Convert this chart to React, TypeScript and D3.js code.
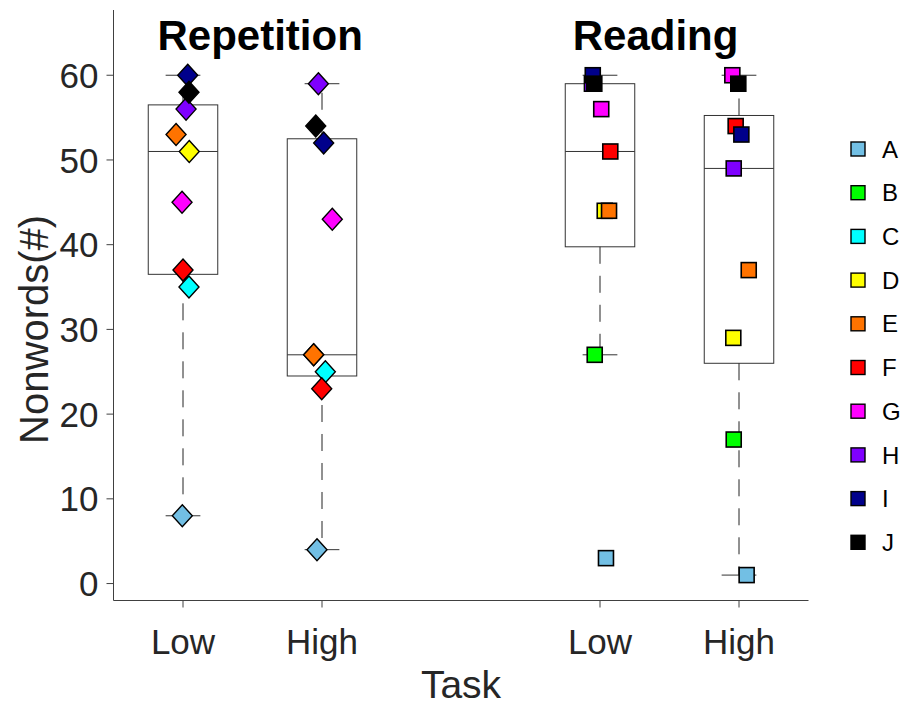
import React from "react";
import * as d3 from "d3";

const subjects = ["A", "B", "C", "D", "E", "F", "G", "H", "I", "J"];
const subjectColors = ["#72bfe4", "#00ff00", "#00ffff", "#ffff00", "#ff7300", "#ff0000", "#ff00ff", "#7f00ff", "#00008b", "#000000"];

const conditionLabels = ["Low", "High", "Low", "High"];
const conditionPositions = [1, 2, 4, 5];
const conditionMarkers = ["diamond", "diamond", "square", "square"];
const groupTitles = ["Repetition", "Reading"];
const groupTitlePositions = [1.555, 4.4];

const repetitionLow = [8, null, 35, 51, 53, 37, 45, 56, 60, 58];
const repetitionHigh = [4, null, 25, 27, 27, 23, 43, 59, 52, 54];
const readingLow = [3, 27, null, 44, 44, 51, 56, 59, 60, 59];
const readingHigh = [1, 17, null, 29, 37, 54, 60, 49, 53, 59];

// horizontal jitter of each subject's marker, in category units
const repetitionLowJitter = [-0.005, 0, 0.043, 0.045, -0.05, 0, -0.007, 0.022, 0.034, 0.043];
const repetitionHighJitter = [-0.036, 0, 0.024, -0.06, -0.06, -0.002, 0.074, -0.026, 0.012, -0.045];
const readingLowJitter = [0.043, -0.038, 0, 0.034, 0.065, 0.074, 0.009, -0.058, -0.052, -0.041];
const readingHighJitter = [0.055, -0.038, 0, -0.041, 0.07, -0.024, -0.048, -0.038, 0.017, -0.005];

const yTicks = [0, 10, 20, 30, 40, 50, 60];

const conditionValues = [repetitionLow, repetitionHigh, readingLow, readingHigh];
const conditionJitter = [repetitionLowJitter, repetitionHighJitter, readingLowJitter, readingHighJitter];

const W = 904;
const H = 706;
const FONT = "'Liberation Sans', Arial, Helvetica, sans-serif";
const TXT = "#262626";
const AX = "#404040";

// MATLAB-style percentile
function prctile(sorted: number[], p: number) {
  const n = sorted.length;
  const pos = (p / 100) * n + 0.5;
  if (pos <= 1) return sorted[0];
  if (pos >= n) return sorted[n - 1];
  const lo = Math.floor(pos);
  const f = pos - lo;
  return sorted[lo - 1] + f * (sorted[lo] - sorted[lo - 1]);
}

function boxStats(vals: (number | null)[]) {
  const s = (vals.filter((v) => v !== null) as number[]).slice().sort((a, b) => a - b);
  const q1 = prctile(s, 25);
  const q3 = prctile(s, 75);
  const med = prctile(s, 50);
  const iqr = q3 - q1;
  const lo = d3.min(s.filter((v) => v >= q1 - 1.5 * iqr)) as number;
  const hi = d3.max(s.filter((v) => v <= q3 + 1.5 * iqr)) as number;
  return { q1, q3, med, lo, hi };
}

export default function App() {
  const x = d3.scaleLinear().domain([0.5, 5.5]).range([113.5, 808.5]);
  const y = d3.scaleLinear().domain([-2, 67.7]).range([600.5, 10]);
  const boxW = 0.5;
  const capW = 0.25;

  const diamond = (cx: number, cy: number) => {
    const hw = 10, hh = 11;
    return `M${cx},${cy - hh}L${cx + hw},${cy}L${cx},${cy + hh}L${cx - hw},${cy}Z`;
  };

  return (
    <svg width={W} height={H} style={{ position: "absolute", left: 0, top: 0, background: "#fff" }} fontFamily={FONT}>
      <rect x={0} y={0} width={W} height={H} fill="#fff" />
      {/* axes */}
      <line x1={x(0.5)} x2={x(0.5)} y1={y(67.7)} y2={y(-2)} stroke={AX} strokeWidth={1} />
      <line x1={x(0.5)} x2={x(5.5)} y1={y(-2)} y2={y(-2)} stroke={AX} strokeWidth={1} />
      {yTicks.map((t) => (
        <g key={"yt" + t}>
          <line x1={x(0.5) - 7} x2={x(0.5)} y1={y(t)} y2={y(t)} stroke={AX} strokeWidth={1} />
          <text x={x(0.5) - 15} y={y(t)} dy="0.36em" textAnchor="end" fontSize={35} fill={TXT}>
            {t}
          </text>
        </g>
      ))}
      {conditionPositions.map((p, i) => (
        <g key={"xt" + i}>
          <line x1={x(p)} x2={x(p)} y1={y(-2)} y2={y(-2) + 7} stroke={AX} strokeWidth={1} />
          <text x={x(p)} y={654} textAnchor="middle" fontSize={35} fill={TXT}>
            {conditionLabels[i]}
          </text>
        </g>
      ))}
      <text x={x(3)} y={698} textAnchor="middle" fontSize={39} fill={TXT}>
        Task
      </text>
      <text transform={`translate(48,${y(30)}) rotate(-90)`} textAnchor="middle" fontSize={40} fill={TXT}>
        Nonwords(#)
      </text>
      {/* boxes */}
      {conditionValues.map((vals, i) => {
        const st = boxStats(vals);
        const p = conditionPositions[i];
        return (
          <g key={"box" + i} stroke="#333" strokeWidth={1} fill="none">
            <rect x={x(p - boxW / 2)} y={y(st.q3)} width={x(p + boxW / 2) - x(p - boxW / 2)} height={y(st.q1) - y(st.q3)} />
            <line x1={x(p - boxW / 2)} x2={x(p + boxW / 2)} y1={y(st.med)} y2={y(st.med)} />
            <line x1={x(p)} x2={x(p)} y1={y(st.q3)} y2={y(st.hi)} strokeDasharray="17,12" stroke="#222" />
            <line x1={x(p)} x2={x(p)} y1={y(st.q1)} y2={y(st.lo)} strokeDasharray="17,12" stroke="#222" />
            <line x1={x(p - capW / 2)} x2={x(p + capW / 2)} y1={y(st.hi)} y2={y(st.hi)} />
            <line x1={x(p - capW / 2)} x2={x(p + capW / 2)} y1={y(st.lo)} y2={y(st.lo)} />
          </g>
        );
      })}
      {/* points */}
      {conditionValues.map((vals, i) => {
        const p = conditionPositions[i];
        return (
          <g key={"pts" + i}>
            {vals.map((v, j) => {
              if (v === null) return null;
              const cx = x(p + conditionJitter[i][j]);
              const cy = y(v);
              if (conditionMarkers[i] === "diamond") {
                return <path key={j} d={diamond(cx, cy)} fill={subjectColors[j]} stroke="#000" strokeWidth={1.4} />;
              }
              return <rect key={j} x={cx - 7.5} y={cy - 7.5} width={15} height={15} fill={subjectColors[j]} stroke="#000" strokeWidth={1.6} />;
            })}
          </g>
        );
      })}
      {/* group titles */}
      {groupTitles.map((t, i) => (
        <text key={t} x={x(groupTitlePositions[i])} y={50} textAnchor="middle" fontSize={42} fontWeight="bold" fill="#000">
          {t}
        </text>
      ))}
      {/* legend */}
      {subjects.map((s, i) => (
        <g key={s} transform={`translate(858,${149 + i * 43.7})`}>
          <rect x={-7} y={-7} width={14} height={14} fill={subjectColors[i]} stroke="#000" strokeWidth={1.4} />
          <text x={24} y={0} dy="0.36em" fontSize={24} fill="#000">
            {s}
          </text>
        </g>
      ))}
    </svg>
  );
}
